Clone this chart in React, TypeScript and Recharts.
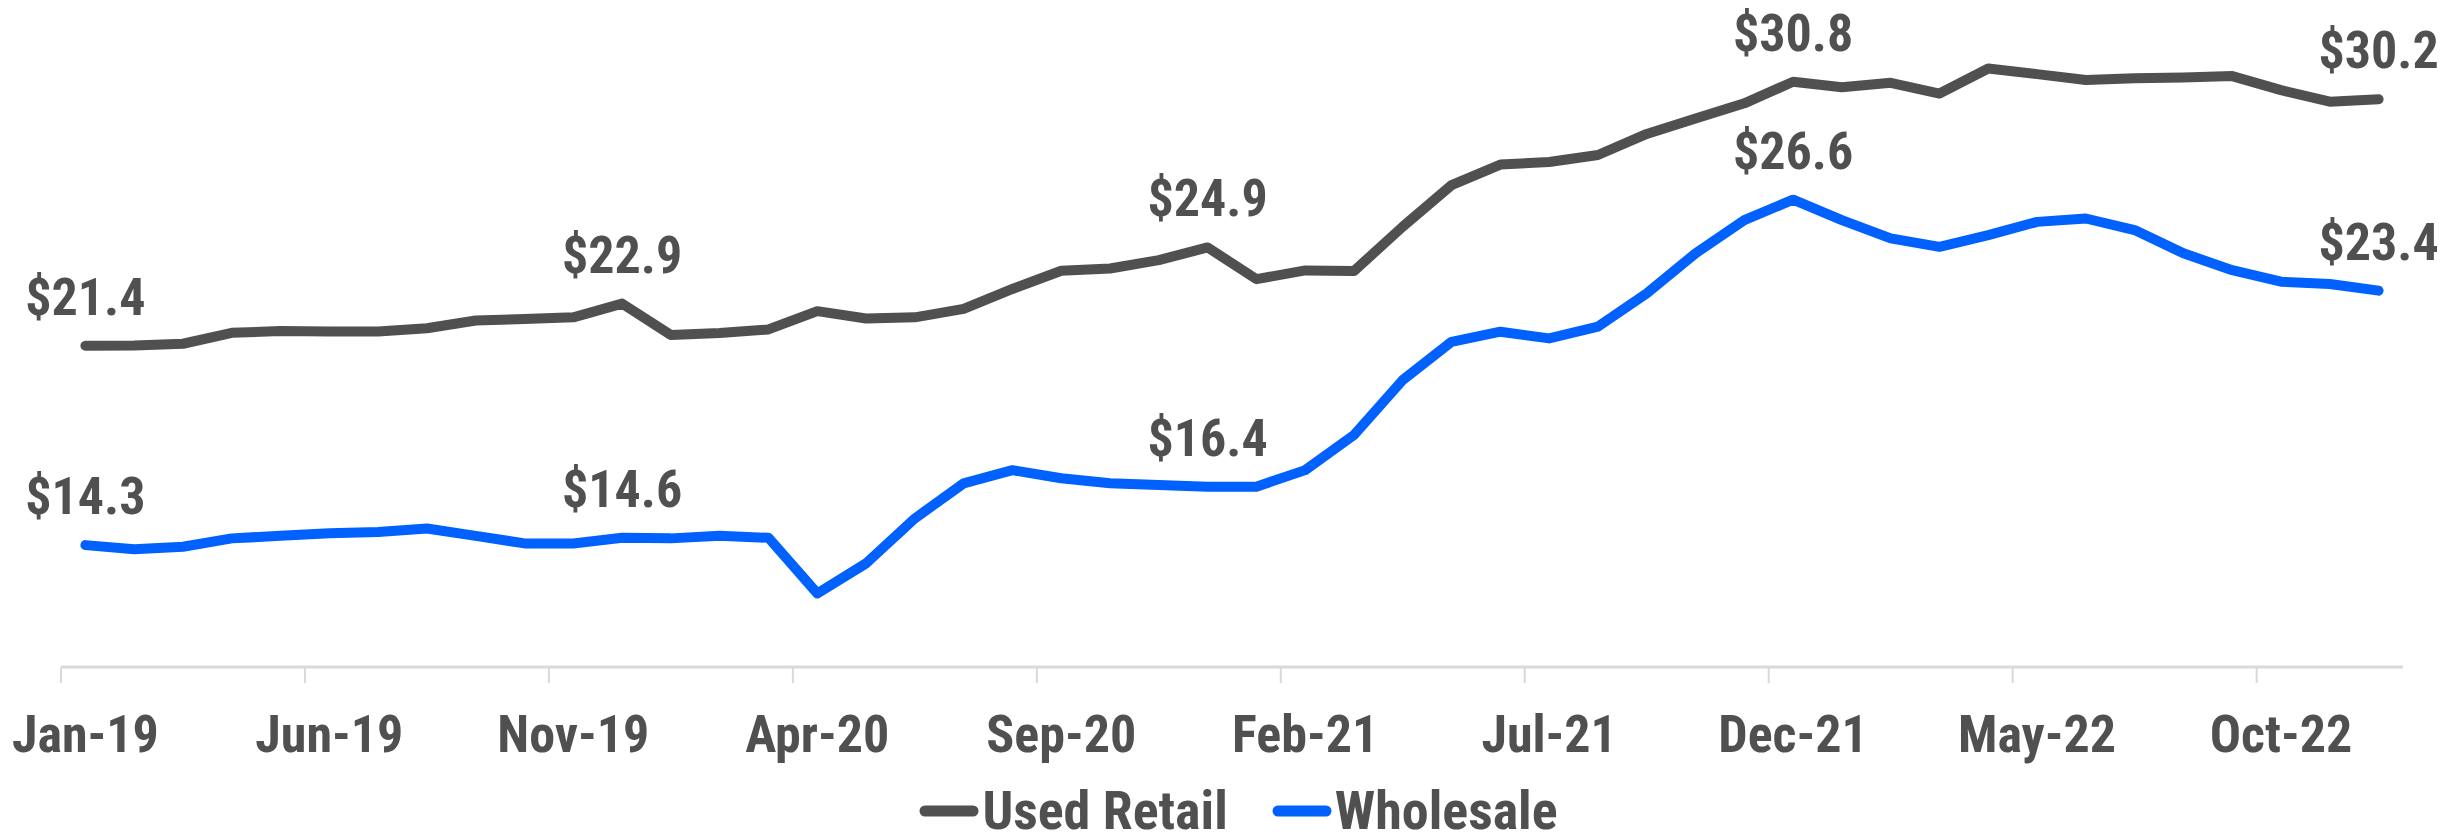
import React from "react";
import { LineChart, Line, XAxis, YAxis, Legend, LabelList } from "recharts";

const months = [
  "Jan-19", "Feb-19", "Mar-19", "Apr-19", "May-19", "Jun-19", "Jul-19", "Aug-19", "Sep-19", "Oct-19", "Nov-19", "Dec-19",
  "Jan-20", "Feb-20", "Mar-20", "Apr-20", "May-20", "Jun-20", "Jul-20", "Aug-20", "Sep-20", "Oct-20", "Nov-20", "Dec-20",
  "Jan-21", "Feb-21", "Mar-21", "Apr-21", "May-21", "Jun-21", "Jul-21", "Aug-21", "Sep-21", "Oct-21", "Nov-21", "Dec-21",
  "Jan-22", "Feb-22", "Mar-22", "Apr-22", "May-22", "Jun-22", "Jul-22", "Aug-22", "Sep-22", "Oct-22", "Nov-22", "Dec-22",
];

const usedRetail = [
  21.4, 21.41, 21.47, 21.86, 21.92, 21.91, 21.91, 22.02, 22.3, 22.35, 22.41, 22.9,
  21.78, 21.85, 21.98, 22.63, 22.37, 22.41, 22.71, 23.42, 24.07, 24.15, 24.45, 24.9,
  23.77, 24.08, 24.06, 25.64, 27.12, 27.85, 27.94, 28.19, 28.94, 29.49, 30.03, 30.8,
  30.6, 30.76, 30.38, 31.27, 31.07, 30.86, 30.92, 30.95, 31.0, 30.5, 30.09, 30.18,
];

const wholesale = [
  14.3, 14.15, 14.24, 14.54, 14.63, 14.72, 14.77, 14.89, 14.63, 14.36, 14.36, 14.56,
  14.54, 14.63, 14.56, 12.58, 13.65, 15.25, 16.5, 16.97, 16.68, 16.5, 16.44, 16.38,
  16.38, 16.97, 18.22, 20.18, 21.54, 21.9, 21.66, 22.08, 23.26, 24.69, 25.87, 26.6,
  25.87, 25.22, 24.92, 25.34, 25.81, 25.93, 25.52, 24.69, 24.09, 23.68, 23.6, 23.36,
];

// points that carry a value label
const labelled = [0, 11, 23, 35, 47];

const data = months.map((m, i) => ({ month: m, used: usedRetail[i], wholesale: wholesale[i] }));

const W = 2463;
const H = 836;
const LEFT = 61;
const RIGHT = 60;
const BAND = (W - LEFT - RIGHT) / months.length;
const FONT = "'Roboto Condensed', Roboto, sans-serif";
const GREY = "#505050";
const BLUE = "#0061fe";

const AxisTick = (props: any) => {
  const { x, y, payload } = props;
  return (
    <g>
      <line x1={x - BAND / 2} x2={x - BAND / 2} y1={y} y2={y + 16} stroke="#d9d9d9" strokeWidth={2} />
      <text x={x} y={y + 85} textAnchor="middle" fill={GREY} fontSize={52} fontWeight={700} fontFamily={FONT} style={{ fontStretch: "condensed" }}>
        {payload.value}
      </text>
    </g>
  );
};

const ValueLabel = (props: any) => {
  const { x, y, value, index } = props;
  if (!labelled.includes(index)) return null;
  return (
    <text x={x} y={y - 31} textAnchor="middle" fill={GREY} fontSize={52} fontWeight={700} fontFamily={FONT} style={{ fontStretch: "condensed" }}>
      {"$" + Number(value).toFixed(1)}
    </text>
  );
};

const renderLegend = () => (
  <div style={{ display: "flex", justifyContent: "center", alignItems: "center", height: 50, paddingLeft: 14, fontFamily: FONT, fontStretch: "condensed", fontWeight: 700, fontSize: 54, color: GREY }}>
    {[{ name: "Used Retail", color: GREY }, { name: "Wholesale", color: BLUE }].map((it) => (
      <div key={it.name} style={{ display: "flex", alignItems: "center", margin: "0 22px" }}>
        <svg width={60} height={16} style={{ marginRight: 3 }}>
          <line x1={6} x2={54} y1={8} y2={8} stroke={it.color} strokeWidth={11} strokeLinecap="round" />
        </svg>
        <span style={{ lineHeight: "48px" }}>{it.name}</span>
      </div>
    ))}
  </div>
);

export default function App() {
  return (
    <div style={{ position: "absolute", left: 0, top: 0, background: "#fff" }}>
      <LineChart width={W} height={H} data={data} margin={{ top: 0, right: RIGHT, left: LEFT, bottom: 0 }}>
        <XAxis
          dataKey="month"
          interval={4}
          tickSize={0}
          tickMargin={0}
          tickLine={false}
          height={119}
          padding={{ left: BAND / 2, right: BAND / 2 }}
          axisLine={{ stroke: "#d9d9d9", strokeWidth: 3 }}
          tick={<AxisTick />}
        />
        <YAxis hide domain={[9.96, 33.71]} />
        <Legend verticalAlign="bottom" content={renderLegend} wrapperStyle={{ height: 50, left: 0, bottom: 0, width: W }} />
        <Line type="linear" dataKey="used" name="Used Retail" stroke={GREY} strokeWidth={10} dot={false} strokeLinecap="round" strokeLinejoin="round" isAnimationActive={false}>
          <LabelList dataKey="used" content={<ValueLabel />} />
        </Line>
        <Line type="linear" dataKey="wholesale" name="Wholesale" stroke={BLUE} strokeWidth={10} dot={false} strokeLinecap="round" strokeLinejoin="round" isAnimationActive={false}>
          <LabelList dataKey="wholesale" content={<ValueLabel />} />
        </Line>
      </LineChart>
    </div>
  );
}
